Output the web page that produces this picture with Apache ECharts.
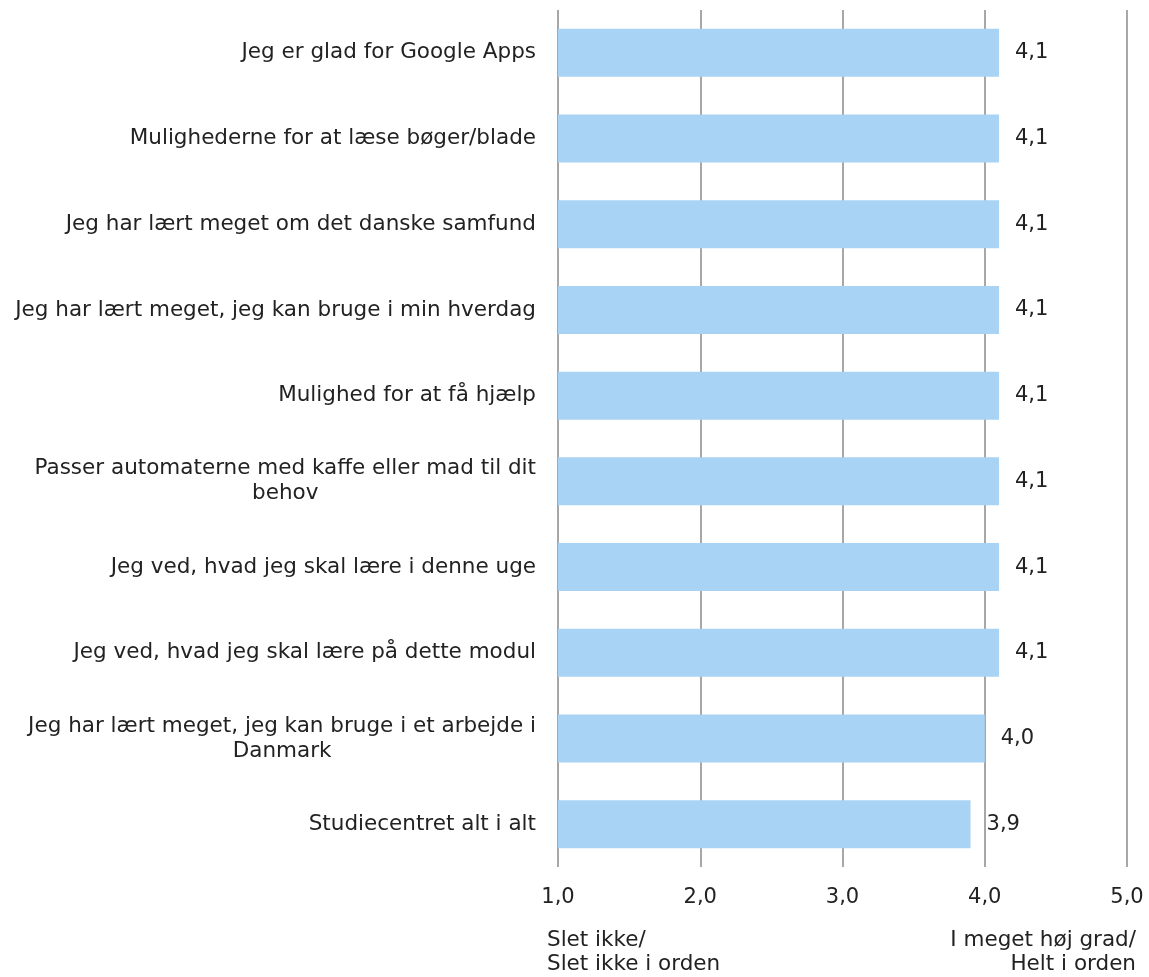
<!DOCTYPE html>
<html><head><meta charset="utf-8">
<script src="https://cdn.jsdelivr.net/npm/echarts@6/dist/echarts.min.js"></script>
<style>html,body{margin:0;padding:0;background:#fff}#c{width:1149px;height:977px}</style>
</head><body><div id="c"></div>
<script>
const categories = [
  "Jeg er glad for Google Apps",
  "Mulighederne for at læse bøger/blade",
  "Jeg har lært meget om det danske samfund",
  "Jeg har lært meget, jeg kan bruge i min hverdag",
  "Mulighed for at få hjælp",
  "Passer automaterne med kaffe eller mad til dit\nbehov",
  "Jeg ved, hvad jeg skal lære i denne uge",
  "Jeg ved, hvad jeg skal lære på dette modul",
  "Jeg har lært meget, jeg kan bruge i et arbejde i\nDanmark",
  "Studiecentret alt i alt"
];
const values = [4.1, 4.1, 4.1, 4.1, 4.1, 4.1, 4.1, 4.1, 4.0, 3.9];
const xTicks = [1, 2, 3, 4, 5];
const scaleLow = ["Slet ikke/", "Slet ikke i orden"];
const scaleHigh = ["I meget høj grad/", "Helt i orden"];

const FONT = "'DejaVu Sans', Verdana, sans-serif";
const FS = 21.5;
const fmt = v => v.toFixed(1).replace('.', ',');

const chart = echarts.init(document.getElementById('c'));
chart.setOption({
  animation: false,
  backgroundColor: '#fff',
  textStyle: { fontFamily: FONT },
  grid: { left: 558, right: 22, top: 10, bottom: 110, containLabel: false },
  xAxis: {
    type: 'value', min: xTicks[0], max: xTicks[xTicks.length - 1], interval: 1,
    axisLine: { show: false }, axisTick: { show: false },
    splitLine: { show: true, lineStyle: { color: '#8a8a8a', width: 1.5 } },
    axisLabel: { formatter: v => fmt(v), color: '#222', fontSize: 21, fontFamily: FONT, margin: 20 }
  },
  yAxis: {
    type: 'category', data: categories, inverse: true,
    axisLine: { show: false }, axisTick: { show: false },
    axisLabel: {
      color: '#222', fontSize: FS, fontFamily: FONT, margin: 22, lineHeight: 25,
      formatter: s => s.split('\n').map(l => '{c|' + l + '}').join('\n'),
      rich: { c: { align: 'center', fontSize: FS, fontFamily: FONT, color: '#222', lineHeight: 25 } }
    }
  },
  series: [{
    type: 'bar', data: values, barWidth: 48,
    itemStyle: { color: '#a8d3f4' },
    label: { show: true, position: 'right', distance: 16, formatter: p => fmt(p.value), color: '#222', fontSize: 21, fontFamily: FONT }
  }],
  graphic: [
    { type: 'text', left: 547, top: 929, style: { text: scaleLow[0], font: FS + 'px ' + FONT, fill: '#222' } },
    { type: 'text', left: 547, top: 953, style: { text: scaleLow[1], font: FS + 'px ' + FONT, fill: '#222' } },
    { type: 'text', right: 13, top: 929, style: { text: scaleHigh[0], font: FS + 'px ' + FONT, fill: '#222' } },
    { type: 'text', right: 13, top: 953, style: { text: scaleHigh[1], font: FS + 'px ' + FONT, fill: '#222' } }
  ]
});
</script></body></html>
